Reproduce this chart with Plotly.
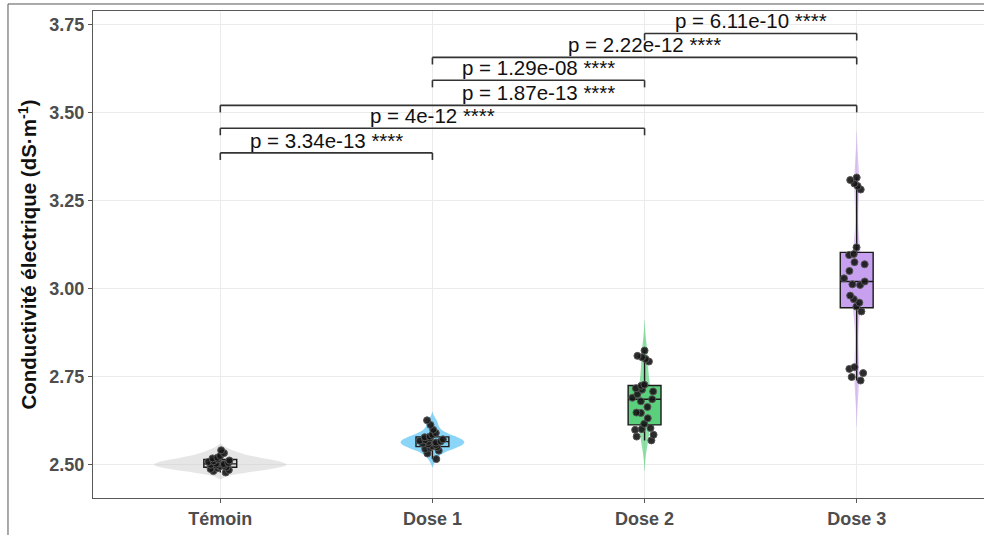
import plotly.graph_objects as go

categories = ["Témoin", "Dose 1", "Dose 2", "Dose 3"]

temoin = [2.541, 2.533, 2.525, 2.520, 2.518, 2.515, 2.512, 2.510, 2.508, 2.505,
          2.503, 2.502, 2.500, 2.498, 2.497, 2.495, 2.493, 2.490, 2.488, 2.485,
          2.482, 2.478]
dose1 = [2.626, 2.613, 2.599, 2.590, 2.585, 2.580, 2.578, 2.575, 2.572, 2.570,
         2.568, 2.566, 2.565, 2.563, 2.560, 2.558, 2.556, 2.553, 2.550, 2.548,
         2.545, 2.540, 2.532, 2.516]
dose2 = [2.824, 2.809, 2.805, 2.800, 2.793, 2.727, 2.724, 2.717, 2.713, 2.708,
         2.700, 2.690, 2.686, 2.680, 2.664, 2.648, 2.647, 2.632, 2.616, 2.604,
         2.601, 2.599, 2.585, 2.580, 2.569]
dose3 = [3.315, 3.308, 3.298, 3.291, 3.281, 3.117, 3.098, 3.095, 3.075, 3.069,
         3.050, 3.029, 3.020, 3.012, 3.010, 2.980, 2.970, 2.960, 2.949, 2.935,
         2.777, 2.772, 2.760, 2.749, 2.739]
group_values = [temoin, dose1, dose2, dose3]

comparisons = [("Témoin", "Dose 1"), ("Témoin", "Dose 2"), ("Témoin", "Dose 3"),
               ("Dose 1", "Dose 2"), ("Dose 1", "Dose 3"), ("Dose 2", "Dose 3")]
p_labels = ["p = 3.34e-13 ****", "p = 4e-12 ****", "p = 1.87e-13 ****",
            "p = 1.29e-08 ****", "p = 2.22e-12 ****", "p = 6.11e-10 ****"]
bracket_y = [3.385, 3.455, 3.520, 3.591, 3.656, 3.724]

y_ticks = [2.50, 2.75, 3.00, 3.25, 3.50, 3.75]
y_ticktext = ["2.50", "2.75", "3.00", "3.25", "3.50", "3.75"]

violin_colors = ["rgba(205,205,205,0.5)", "rgba(100,200,245,0.75)",
                 "rgba(70,205,110,0.6)", "rgba(195,150,235,0.55)"]
box_colors = ["rgba(215,215,215,1)", "rgba(120,205,240,1)",
              "rgba(90,208,125,1)", "rgba(200,160,240,1)"]
violin_widths = [0.62, 0.30, 0.06, 0.05]

fig = go.Figure()

for cat, vals, vc, w in zip(categories, group_values, violin_colors, violin_widths):
    fig.add_trace(go.Violin(
        x=[cat] * len(vals), y=vals, fillcolor=vc,
        line=dict(width=0, color=vc), width=w, points=False,
        spanmode="soft", scalemode="width", hoverinfo="skip",
        showlegend=False))

for cat, vals, bc in zip(categories, group_values, box_colors):
    fig.add_trace(go.Box(
        x=[cat] * len(vals), y=vals, fillcolor=bc,
        line=dict(color="#1a1a1a", width=1.4), width=0.155, whiskerwidth=0,
        boxpoints="all", jitter=0.8, pointpos=0,
        marker=dict(size=7, color="rgba(20,20,20,0.9)",
                    line=dict(width=1, color="rgba(85,85,85,1)")),
        showlegend=False))

tip = 0.02
line_style = dict(color="#333333", width=1.6)
for (a, b), yv, lab in zip(comparisons, bracket_y, p_labels):
    i1, i2 = categories.index(a), categories.index(b)
    fig.add_shape(type="line", xref="x", yref="y", x0=i1, x1=i2, y0=yv, y1=yv, line=line_style)
    fig.add_shape(type="line", xref="x", yref="y", x0=i1, x1=i1, y0=yv - tip, y1=yv, line=line_style)
    fig.add_shape(type="line", xref="x", yref="y", x0=i2, x1=i2, y0=yv - tip, y1=yv, line=line_style)
    fig.add_annotation(x=(i1 + i2) / 2, y=yv, xref="x", yref="y", text=lab,
                       showarrow=False, yanchor="bottom", yshift=-1,
                       font=dict(family="Liberation Sans, Arial", size=20.5, color="#111111"))

# outer image frame (left and top)
fig.add_shape(type="line", xref="paper", yref="paper", x0=-0.0954, x1=-0.0954,
              y0=1.0144, y1=-0.08, line=dict(color="#555555", width=1))
fig.add_shape(type="line", xref="paper", yref="paper", x0=-0.0954, x1=1.01,
              y0=1.0144, y1=1.0144, line=dict(color="#555555", width=1))

axis_font = dict(family="Liberation Sans, Arial", size=18, color="#4d4d4d", weight="bold")

fig.update_layout(
    width=984, height=535,
    margin=dict(l=93, r=0, t=11, b=37),
    paper_bgcolor="white", plot_bgcolor="white",
    violinmode="overlay", boxmode="overlay",
    showlegend=False,
    xaxis=dict(type="category", categoryorder="array", categoryarray=categories,
               range=[-0.6, 3.6], showgrid=True, gridcolor="#ebebeb", gridwidth=1,
               showline=True, linecolor="#595959", linewidth=1.4, mirror=True,
               ticks="outside", ticklen=4, tickcolor="#595959", tickwidth=1.2,
               tickfont=axis_font, ticklabelstandoff=0, zeroline=False),
    yaxis=dict(range=[2.4056, 3.7877], tickvals=y_ticks, ticktext=y_ticktext,
               showgrid=True, gridcolor="#ebebeb", gridwidth=1, zeroline=False,
               showline=True, linecolor="#595959", linewidth=1.4,
               ticks="outside", ticklen=4, tickcolor="#595959", tickwidth=1.2,
               tickfont=axis_font,
               title=dict(text="Conductivité électrique (dS·m<sup>-1</sup>)", standoff=6,
                          font=dict(family="Liberation Sans, Arial", size=20.5,
                                    color="#111111", weight="bold"))),
)

fig.write_html("out.html", config={"displayModeBar": False},
               post_script="document.body.style.margin='0px';document.body.style.overflow='hidden';")
